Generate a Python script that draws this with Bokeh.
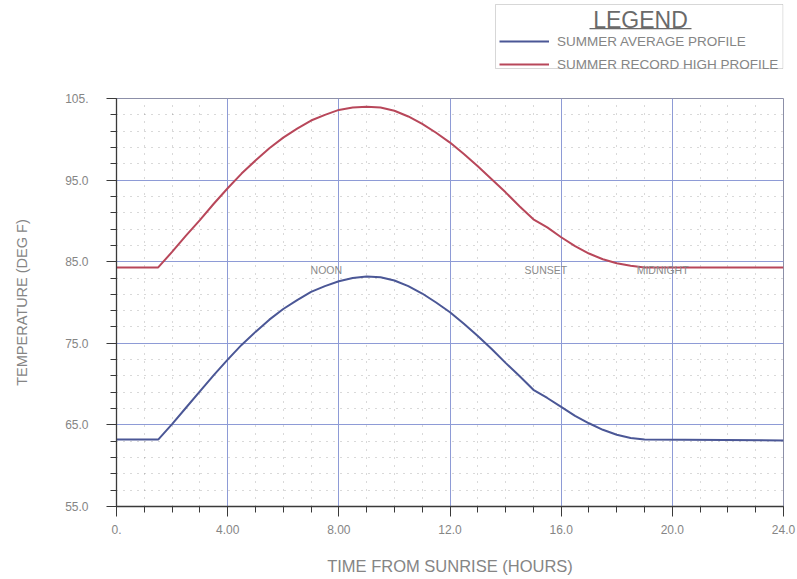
from bokeh.plotting import figure
from bokeh.layouts import column
from bokeh.models import (FixedTicker, Legend, LegendItem, Label, Range1d, BoxAnnotation)
from bokeh.embed import file_html
from bokeh.resources import INLINE

# ---- data ----
hours = [0, 1.5, 2.0, 2.5, 3.0, 3.5, 4.0, 4.5, 5.0, 5.5, 6.0, 6.5, 7.0, 7.5, 8.0, 8.5,
         9.0, 9.5, 10.0, 10.5, 11.0, 11.5, 12.0, 12.5, 13.0, 13.5, 14.0, 14.5, 15.0,
         15.5, 16.0, 16.5, 17.0, 17.5, 18.0, 18.5, 19.0, 24.0]
record_high = [84.3, 84.3, 86.2, 88.2, 90.1, 92.1, 94.0, 95.8, 97.4, 98.9, 100.2, 101.3,
               102.3, 103.0, 103.6, 103.9, 104.0, 103.9, 103.5, 102.8, 101.9, 100.8, 99.6,
               98.2, 96.7, 95.1, 93.5, 91.8, 90.2, 89.2, 88.0, 86.9, 86.0, 85.3, 84.8,
               84.5, 84.3, 84.3]
average = [63.2, 63.2, 65.1, 67.1, 69.1, 71.1, 73.0, 74.8, 76.4, 77.9, 79.2, 80.3, 81.3,
           82.0, 82.6, 83.0, 83.2, 83.1, 82.7, 82.0, 81.1, 80.0, 78.8, 77.4, 75.9, 74.3,
           72.6, 71.0, 69.3, 68.3, 67.2, 66.1, 65.2, 64.4, 63.8, 63.4, 63.2, 63.1]

x_ticks = [0, 4, 8, 12, 16, 20, 24]
x_tick_labels = ["0.", "4.00", "8.00", "12.0", "16.0", "20.0", "24.0"]
y_ticks = [55, 65, 75, 85, 95, 105]
y_tick_labels = ["55.0", "65.0", "75.0", "85.0", "95.0", "105."]

annotations = ["NOON", "SUNSET", "MIDNIGHT"]
annotation_x = [7.55, 15.45, 19.65]
annotation_y = [84.0, 84.0, 84.0]

series_names = ["SUMMER AVERAGE PROFILE", "SUMMER RECORD HIGH PROFILE"]
legend_title = "LEGEND"

FONT = "Liberation Sans"
TEXT = "#858585"
BLUE = "#4b5796"
RED = "#b8475a"
GRID = "#8e9bd6"

W = 797
TOP_H = 80
FRAME_L = 116
FRAME_R = W - 14

# ---------------- header (legend) ----------------
# the header frame is aligned with the chart frame; map it 1:1 to page pixels
head = figure(width=W, height=TOP_H, output_backend="svg", toolbar_location=None,
              x_range=Range1d(FRAME_L, FRAME_R), y_range=Range1d(TOP_H, 0),
              x_axis_location=None, y_axis_location=None,
              min_border_left=FRAME_L, min_border_right=W - FRAME_R,
              min_border_top=0, min_border_bottom=0)
head.grid.visible = False
head.outline_line_color = None
head.background_fill_color = "white"
head.border_fill_color = "white"

# legend proxies (hidden; they only supply the legend glyph styles)
d_avg = head.line(hours, average, line_color=BLUE, line_width=2, visible=False)
d_high = head.line(hours, record_high, line_color=RED, line_width=2, visible=False)

legend = Legend(items=[LegendItem(label=series_names[0], renderers=[d_avg]),
                       LegendItem(label=series_names[1], renderers=[d_high])],
                location=(495 - FRAME_L, 4))
legend.label_text_font = FONT
legend.label_text_font_size = "13.5px"
legend.label_text_color = TEXT
legend.glyph_width = 50
legend.glyph_height = 16
legend.label_standoff = 8
legend.label_height = 16
legend.spacing = 7
legend.padding = 4
legend.margin = 0
legend.border_line_alpha = 0
legend.background_fill_alpha = 0
legend.inactive_fill_alpha = 0
head.add_layout(legend, "center")

head.add_layout(BoxAnnotation(left=495, right=FRAME_R - 0.5, top=4, bottom=68,
                              fill_alpha=0, line_color="#7a7a7a", line_width=1))
head.add_layout(Label(x=640, y=19.5, text=legend_title, text_font=FONT,
                      text_font_size="23px", text_color="#6a6a6a",
                      text_align="center", text_baseline="middle"))
head.add_layout(BoxAnnotation(left=589, right=691, top=27.5, bottom=28.8,
                              fill_color="#6a6a6a", fill_alpha=1, line_alpha=0))

# ---------------- main chart ----------------
p = figure(width=W, height=579 - TOP_H, output_backend="svg", toolbar_location=None,
           x_range=Range1d(0, 24), y_range=Range1d(55, 105),
           min_border_left=FRAME_L, min_border_right=W - FRAME_R, min_border_top=98 - TOP_H,
           min_border_bottom=73)
p.background_fill_color = "white"
p.border_fill_color = "white"
p.outline_line_color = "#8c8fa8"
p.outline_line_width = 1

for ax in (p.xaxis[0], p.yaxis[0]):
    ax.axis_line_color = "#3a3a3a"
    ax.axis_line_width = 1.3
    ax.major_tick_line_color = "#3a3a3a"
    ax.minor_tick_line_color = "#3a3a3a"
    ax.major_tick_in = 0
    ax.major_tick_out = 10
    ax.minor_tick_in = 0
    ax.minor_tick_out = 6
    ax.major_label_text_font = FONT
    ax.major_label_text_font_size = "12px"
    ax.major_label_text_color = TEXT
    ax.axis_label_text_font = FONT
    ax.axis_label_text_font_style = "normal"
    ax.axis_label_text_color = TEXT

p.xaxis.ticker = FixedTicker(ticks=x_ticks, minor_ticks=list(range(0, 25)))
p.yaxis.ticker = FixedTicker(ticks=y_ticks, minor_ticks=list(range(55, 106, 2)))
p.xaxis.major_label_overrides = dict(zip(x_ticks, x_tick_labels))
p.yaxis.major_label_overrides = dict(zip(y_ticks, y_tick_labels))
p.xaxis.axis_label = "TIME FROM SUNRISE (HOURS)"
p.yaxis.axis_label = "TEMPERATURE (DEG F)"
p.xaxis.axis_label_text_font_size = "16.5px"
p.yaxis.axis_label_text_font_size = "14.5px"
p.xaxis.major_label_standoff = 8
p.yaxis.major_label_standoff = 18
p.xaxis.axis_label_standoff = 20
p.yaxis.axis_label_standoff = 32

p.xgrid.grid_line_color = GRID
p.ygrid.grid_line_color = GRID
p.xgrid.grid_line_width = 1
p.ygrid.grid_line_width = 1
p.xgrid.minor_grid_line_color = "#555555"
p.ygrid.minor_grid_line_color = "#555555"
p.xgrid.minor_grid_line_alpha = 0.45
p.ygrid.minor_grid_line_alpha = 0.45
p.xgrid.minor_grid_line_dash = "1 7"
p.ygrid.minor_grid_line_dash = "1 6"

p.line(hours, average, line_color=BLUE, line_width=2)
p.line(hours, record_high, line_color=RED, line_width=2)

for t, xx, yy in zip(annotations, annotation_x, annotation_y):
    p.add_layout(Label(x=xx, y=yy, text=t, text_font=FONT, text_font_size="10.5px",
                       text_color="#8a8a8a", text_align="center", text_baseline="middle"))

layout = column(head, p, spacing=0)
html = file_html(layout, INLINE)
open("out.html", "w").write(html)
